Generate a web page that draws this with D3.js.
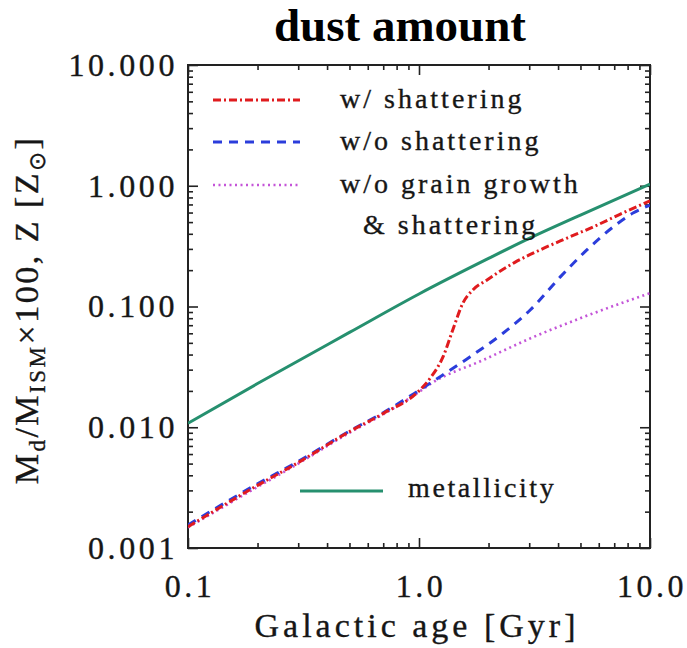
<!DOCTYPE html>
<html>
<head>
<meta charset="utf-8">
<script src="https://cdn.jsdelivr.net/npm/d3@7"></script>
<style>
  body { margin: 0; background: #fff; }
  text { font-family: "Liberation Serif", "Times New Roman", serif; fill: #161616; stroke: #161616; stroke-width: 0.35px; }
</style>
</head>
<body>
<div class="canvas1"></div>
<script>
// plot box in page pixels
const margin = { top: 65, right: 37, bottom: 100, left: 188 };
const width = 687 - margin.left - margin.right;
const height = 648 - margin.top - margin.bottom;

// tick values and labels
const ageTicks = [0.1, 1, 10];
const ageTickLabels = ["0.1", "1.0", "10.0"];
const yTicks = [0.001, 0.01, 0.1, 1, 10];
const yTickLabels = ["0.001", "0.010", "0.100", "1.000", "10.000"];

// metallicity (solid green)
const metalAge = [0.1, 0.2, 0.5, 1.0, 2.0, 3.0, 5.0, 10.0];
const metalZ = [0.0108, 0.023, 0.061, 0.127, 0.25, 0.366, 0.571, 1.03];

// w/ shattering (red dash-dot)
const shatAge = [0.1, 0.2, 0.3, 0.5, 0.7, 1.0, 1.12, 1.27, 1.40, 1.55, 1.71, 1.97, 2.6, 3.34, 4.38, 5.66, 7.41, 10.0];
const shatVal = [0.0015, 0.0033, 0.0051, 0.0092, 0.013, 0.020, 0.0256, 0.0382, 0.0639, 0.107, 0.137, 0.166, 0.232, 0.294, 0.369, 0.455, 0.58, 0.75];

// w/o shattering (blue dashed)
const noShatAge = [0.1, 0.2, 0.3, 0.5, 0.7, 1.0, 1.23, 1.66, 2.31, 3.03, 4.08, 5.33, 6.92, 8.44, 10.0];
const noShatVal = [0.00155, 0.0034, 0.0052, 0.0093, 0.0132, 0.0202, 0.0261, 0.0382, 0.060, 0.0936, 0.175, 0.294, 0.455, 0.594, 0.69];

// w/o grain growth & shattering (violet dotted)
const noGrowAge = [0.1, 0.2, 0.3, 0.5, 0.7, 1.0, 1.12, 1.9, 3.13, 5.15, 10.0];
const noGrowVal = [0.00148, 0.0032, 0.005, 0.009, 0.0128, 0.0196, 0.0228, 0.0361, 0.0559, 0.0818, 0.129];

const legendLabels = ["w/ shattering", "w/o shattering", "w/o grain growth", "& shattering"];

var svg = d3.select(".canvas1").append("svg")
    .attr("width", 687)
    .attr("height", 648)
  .append("g")
    .attr("transform", "translate(" + margin.left + "," + margin.top + ")");

// scales
const x = d3.scaleLog().domain([0.1, 10]).range([0, width]);
const y = d3.scaleLog().domain([0.001, 10]).range([height, 0]);

// minor ticks 2..9 in each decade
const minorX = [];
[0.1, 1].forEach(d => { for (let k = 2; k <= 9; k++) minorX.push(d * k); });
const minorY = [];
[0.001, 0.01, 0.1, 1].forEach(d => { for (let k = 2; k <= 9; k++) minorY.push(d * k); });

function tickAxis(axis, vals, size) {
  return axis.tickValues(vals).tickSize(size).tickSizeOuter(0).tickFormat("");
}

// ticks on all four sides, pointing inward
svg.append("g").attr("transform", "translate(0," + height + ")").call(tickAxis(d3.axisBottom(x), ageTicks, -10));
svg.append("g").attr("transform", "translate(0," + height + ")").call(tickAxis(d3.axisBottom(x), minorX, -5));
svg.append("g").call(tickAxis(d3.axisTop(x), ageTicks, -10));
svg.append("g").call(tickAxis(d3.axisTop(x), minorX, -5));
svg.append("g").call(tickAxis(d3.axisLeft(y), yTicks, -10));
svg.append("g").call(tickAxis(d3.axisLeft(y), minorY, -5));
svg.append("g").attr("transform", "translate(" + width + ",0)").call(tickAxis(d3.axisRight(y), yTicks, -10));
svg.append("g").attr("transform", "translate(" + width + ",0)").call(tickAxis(d3.axisRight(y), minorY, -5));
svg.selectAll(".domain").remove();
svg.selectAll(".tick line").attr("stroke", "#222").attr("stroke-width", 1.6);

// frame
svg.append("rect")
    .attr("width", width)
    .attr("height", height)
    .attr("fill", "none")
    .attr("stroke", "#222")
    .attr("stroke-width", 2);

// tick labels
svg.selectAll(".xlab").data(ageTicks).enter().append("text")
    .attr("x", d => x(d) + 2)
    .attr("y", height + 49)
    .attr("text-anchor", "middle")
    .style("font-size", "32px")
    .style("letter-spacing", "3.5px")
    .text((d, i) => ageTickLabels[i]);

svg.selectAll(".ylab").data(yTicks).enter().append("text")
    .attr("x", -10)
    .attr("y", d => y(d))
    .attr("dy", "0.34em")
    .attr("text-anchor", "end")
    .style("font-size", "32px")
    .style("letter-spacing", "3.6px")
    .text((d, i) => yTickLabels[i]);

// axis titles
svg.append("text")
    .attr("x", 229)
    .attr("y", height + 89)
    .attr("text-anchor", "middle")
    .style("font-size", "34px")
    .style("letter-spacing", "4px")
    .text("Galactic age [Gyr]");

const ylab = svg.append("text")
    .attr("transform", "translate(" + (38 - margin.left) + "," + (310 - margin.top) + ") rotate(-90)")
    .attr("text-anchor", "middle")
    .style("font-size", "34px")
    .style("letter-spacing", "2.5px");
ylab.append("tspan").text("M");
ylab.append("tspan").attr("dy", 7).style("font-size", "23px").text("d");
ylab.append("tspan").attr("dy", -7).text("/M");
ylab.append("tspan").attr("dy", 7).style("font-size", "23px").text("ISM");
ylab.append("tspan").attr("dy", -7).text("\u00d7100, Z [Z");
ylab.append("tspan").attr("dy", 7).style("font-size", "23px").text("\u2299");
ylab.append("tspan").attr("dy", -7).text("]");

// title
svg.append("text")
    .attr("x", 400 - margin.left)
    .attr("y", 41 - margin.top)
    .attr("text-anchor", "middle")
    .style("font-weight", "bold")
    .style("font-size", "47px")
    .style("fill", "#000")
    .style("stroke", "none")
    .text("dust amount");

// curves
svg.append("clipPath").attr("id", "box")
  .append("rect").attr("width", width).attr("height", height);

const line = d3.line()
    .curve(d3.curveMonotoneX)
    .x(d => x(d[0]))
    .y(d => y(d[1]));

const series = [
  { age: metalAge, val: metalZ, color: "#26906f", dash: null, w: 3 },
  { age: noGrowAge, val: noGrowVal, color: "#c455d8", dash: "2,3.5", w: 2.6 },
  { age: noShatAge, val: noShatVal, color: "#2b3ddb", dash: "9,7", w: 3 },
  { age: shatAge, val: shatVal, color: "#e01b1e", dash: "8,3,2,3", w: 3 }
];

series.forEach(s => {
  svg.append("path")
      .datum(s.age.map((a, i) => [a, s.val[i]]))
      .attr("clip-path", "url(#box)")
      .attr("fill", "none")
      .attr("stroke", s.color)
      .attr("stroke-width", s.w)
      .attr("stroke-dasharray", s.dash)
      .attr("d", line);
});

// legend
const legRows = [
  { y: 100, color: "#e01b1e", dash: "8,3,2,3", w: 3 },
  { y: 142, color: "#2b3ddb", dash: "9,7", w: 3 },
  { y: 185, color: "#c455d8", dash: "2,3.5", w: 2.6 }
];
legRows.forEach((r, i) => {
  svg.append("line")
      .attr("x1", 213 - margin.left).attr("x2", 300 - margin.left)
      .attr("y1", r.y - margin.top).attr("y2", r.y - margin.top)
      .attr("stroke", r.color)
      .attr("stroke-width", r.w)
      .attr("stroke-dasharray", r.dash);
  svg.append("text")
      .attr("x", 340 - margin.left)
      .attr("y", r.y - margin.top)
      .attr("dy", "0.3em")
      .style("font-size", "28px")
      .style("letter-spacing", "3px")
      .text(legendLabels[i]);
});
svg.append("text")
    .attr("x", 363 - margin.left)
    .attr("y", 226 - margin.top)
    .attr("dy", "0.3em")
    .style("font-size", "28px")
    .style("letter-spacing", "3px")
    .text(legendLabels[3]);

svg.append("line")
    .attr("x1", 300 - margin.left).attr("x2", 383 - margin.left)
    .attr("y1", 491 - margin.top).attr("y2", 491 - margin.top)
    .attr("stroke", "#26906f")
    .attr("stroke-width", 3);
svg.append("text")
    .attr("x", 408 - margin.left)
    .attr("y", 489 - margin.top)
    .attr("dy", "0.3em")
    .style("font-size", "28px")
    .style("letter-spacing", "2.6px")
    .text("metallicity");
</script>
</body>
</html>
